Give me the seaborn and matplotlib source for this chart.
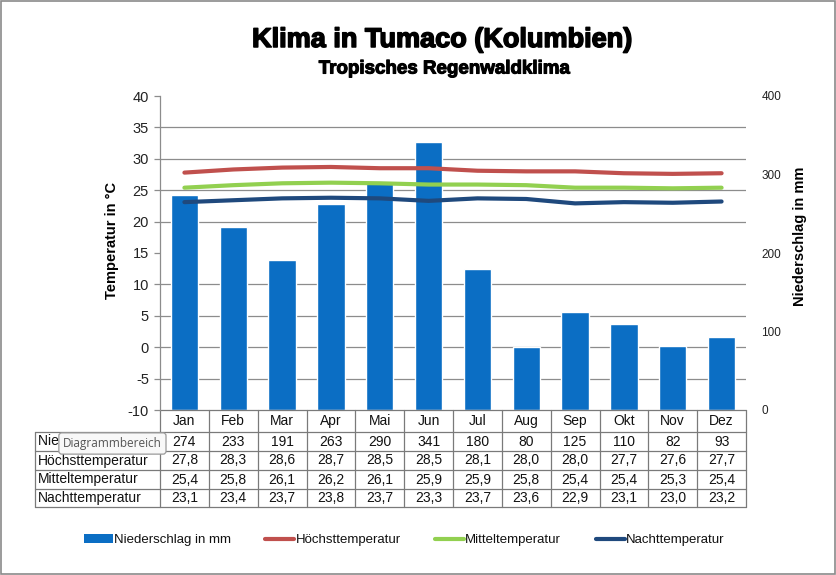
import numpy as np
import pandas as pd
import matplotlib
matplotlib.use('Agg')
import matplotlib.pyplot as plt
import matplotlib.patheffects as pe
import seaborn as sns
from matplotlib.transforms import blended_transform_factory
from matplotlib.patches import Rectangle, Patch
from matplotlib.lines import Line2D

months = ['Jan', 'Feb', 'Mar', 'Apr', 'Mai', 'Jun', 'Jul', 'Aug', 'Sep', 'Okt', 'Nov', 'Dez']
niederschlag = [274, 233, 191, 263, 290, 341, 180, 80, 125, 110, 82, 93]
hoechst = [27.8, 28.3, 28.6, 28.7, 28.5, 28.5, 28.1, 28.0, 28.0, 27.7, 27.6, 27.7]
mittel = [25.4, 25.8, 26.1, 26.2, 26.1, 25.9, 25.9, 25.8, 25.4, 25.4, 25.3, 25.4]
nacht = [23.1, 23.4, 23.7, 23.8, 23.7, 23.3, 23.7, 23.6, 22.9, 23.1, 23.0, 23.2]
row_labels = ['Niederschlag in mm', 'Höchsttemperatur', 'Mitteltemperatur', 'Nachttemperatur']
temp_ticks = list(range(-10, 41, 5))
precip_ticks = [0, 100, 200, 300, 400]

c_bar = '#0B6EC4'
c_hoch = '#C0504D'
c_mittel = '#92D050'
c_nacht = '#1F497D'
grid_c = '#8c8c8c'

sns.set_theme(style='white')
plt.rcParams['font.family'] = ['Liberation Sans', 'DejaVu Sans']

W, H = 836, 575
fig = plt.figure(figsize=(W / 100, H / 100), dpi=100)
fig.patch.set_facecolor('white')


def fx(px):
    return px / W


def fy(py):
    return 1 - py / H


L, R, T, B = 160, 746, 96, 410
rect = [fx(L), fy(B), fx(R) - fx(L), fy(T) - fy(B)]

df = pd.DataFrame({'idx': np.arange(len(months)), 'Monat': months,
                   'Niederschlag': niederschlag, 'Hoechst': hoechst,
                   'Mittel': mittel, 'Nacht': nacht})

# precipitation axes (behind)
axp = fig.add_axes(rect)
axp.set_zorder(1)
sns.barplot(data=df, x='idx', y='Niederschlag', ax=axp, color=c_bar,
            saturation=1, width=0.56, zorder=3)
axp.set_ylim(0, 400)
axp.set_xlim(-0.5, len(months) - 0.5)
axp.set_yticks(precip_ticks)
axp.set_yticks(np.arange(0, 401, 40), minor=True)
axp.grid(False)
axp.yaxis.grid(True, which='minor', color=grid_c, linewidth=0.9, zorder=0)
axp.set_axisbelow(True)
axp.yaxis.tick_right()
axp.tick_params(axis='y', which='both', length=0, pad=11, labelsize=8.5,
                labelcolor='#222222', left=False, right=False)
axp.set_xticks([])
axp.set_xlabel('')
axp.set_ylabel('')
for s in axp.spines.values():
    s.set_visible(False)

# temperature axes (front)
ax = fig.add_axes(rect)
ax.set_zorder(2)
ax.patch.set_visible(False)
for col, c in (('Hoechst', c_hoch), ('Mittel', c_mittel), ('Nacht', c_nacht)):
    sns.lineplot(data=df, x='idx', y=col, ax=ax, color=c, linewidth=3.0,
                 solid_capstyle='round')
ax.set_ylim(-10, 40)
ax.set_xlim(-0.5, len(months) - 0.5)
ax.set_yticks(temp_ticks)
ax.set_yticklabels([str(t) for t in temp_ticks])
ax.yaxis.tick_left()
ax.tick_params(axis='y', length=4, width=0.9, color=grid_c, pad=4, labelsize=10.5,
               labelcolor='#222222', left=True)
ax.set_xticks([])
ax.set_xlabel('')
ax.set_ylabel('')
ax.grid(False)
for k, s in ax.spines.items():
    s.set_visible(k == 'left')
ax.spines['left'].set_color(grid_c)
ax.spines['left'].set_linewidth(0.9)

# data table
tb = blended_transform_factory(ax.transData, fig.transFigure)
tf = fig.transFigure
line_c = '#7a7a7a'
row_edges = [410, 432, 451, 470, 489, 507]
lab_left = 35
n = len(months)
for i, y in enumerate(row_edges):
    fig.add_artist(Line2D([-0.5, n - 0.5], [fy(y), fy(y)], transform=tb,
                          color=line_c, lw=0.9, clip_on=False))
    if i >= 1:
        fig.add_artist(Line2D([fx(lab_left), fx(L)], [fy(y), fy(y)], transform=tf,
                              color=line_c, lw=0.9, clip_on=False))
for i in range(n + 1):
    fig.add_artist(Line2D([i - 0.5, i - 0.5], [fy(row_edges[0]), fy(row_edges[-1])],
                          transform=tb, color=line_c, lw=0.9, clip_on=False))
fig.add_artist(Line2D([fx(lab_left), fx(lab_left)], [fy(row_edges[1]), fy(row_edges[-1])],
                      transform=tf, color=line_c, lw=0.9, clip_on=False))

yc = fy((row_edges[0] + row_edges[1]) / 2)
for i, m in enumerate(months):
    fig.text(i, yc, m, transform=tb, ha='center', va='center', fontsize=10,
             color='#111111')

rows = [[str(v) for v in niederschlag],
        [f'{v:.1f}'.replace('.', ',') for v in hoechst],
        [f'{v:.1f}'.replace('.', ',') for v in mittel],
        [f'{v:.1f}'.replace('.', ',') for v in nacht]]
for r, (lab, vals) in enumerate(zip(row_labels, rows)):
    yc = fy((row_edges[r + 1] + row_edges[r + 2]) / 2)
    fig.text(fx(lab_left + 3), yc, lab, ha='left', va='center', fontsize=10,
             color='#111111')
    for i, v in enumerate(vals):
        fig.text(i, yc, v, transform=tb, ha='center', va='center', fontsize=10,
                 color='#111111')

# tooltip overlay (as in the reference screenshot)
fig.text(fx(63), fy(443.5), 'Diagrammbereich', ha='left', va='center', fontsize=8.5,
         color='#555555', family=['Open Sans', 'DejaVu Sans'], zorder=10,
         bbox=dict(boxstyle='round,pad=0.35,rounding_size=0.25', fc='#f8f8f8',
                   ec='#9a9a9a', lw=0.9))

# titles (heavy weight)
heavy = [pe.withStroke(linewidth=1.1, foreground='black')]
fig.text(fx(442), fy(40), 'Klima in Tumaco (Kolumbien)', ha='center', va='center',
         fontsize=19.5, weight='bold', color='black', path_effects=heavy)
fig.text(fx(444), fy(69), 'Tropisches Regenwaldklima', ha='center', va='center',
         fontsize=13.5, weight='bold', color='black',
         path_effects=[pe.withStroke(linewidth=0.8, foreground='black')])

# axis labels
fig.text(fx(112), fy(240), 'Temperatur in °C', rotation=90, ha='center', va='center',
         fontsize=10.5, weight='bold', color='black')
fig.text(fx(800), fy(236), 'Niederschlag in mm', rotation=90, ha='center', va='center',
         fontsize=10.5, weight='bold', color='black')

# legend
handles = [Patch(facecolor=c_bar, edgecolor='none'),
           Line2D([0], [0], color=c_hoch, lw=3),
           Line2D([0], [0], color=c_mittel, lw=3),
           Line2D([0], [0], color=c_nacht, lw=3)]
fig.legend(handles, row_labels, loc='center', bbox_to_anchor=(fx(404), fy(540)),
           ncol=4, frameon=False, fontsize=9.5, handlelength=2.2, handleheight=0.6,
           handletextpad=0.1, columnspacing=2.6, labelcolor='#111111')

# outer frame
fig.add_artist(Rectangle((0.001, 0.001), 0.998, 0.998, transform=fig.transFigure,
                         fill=False, ec='#8a8a8a', lw=1.2))

fig.savefig('out.png', dpi=100, facecolor='white')
